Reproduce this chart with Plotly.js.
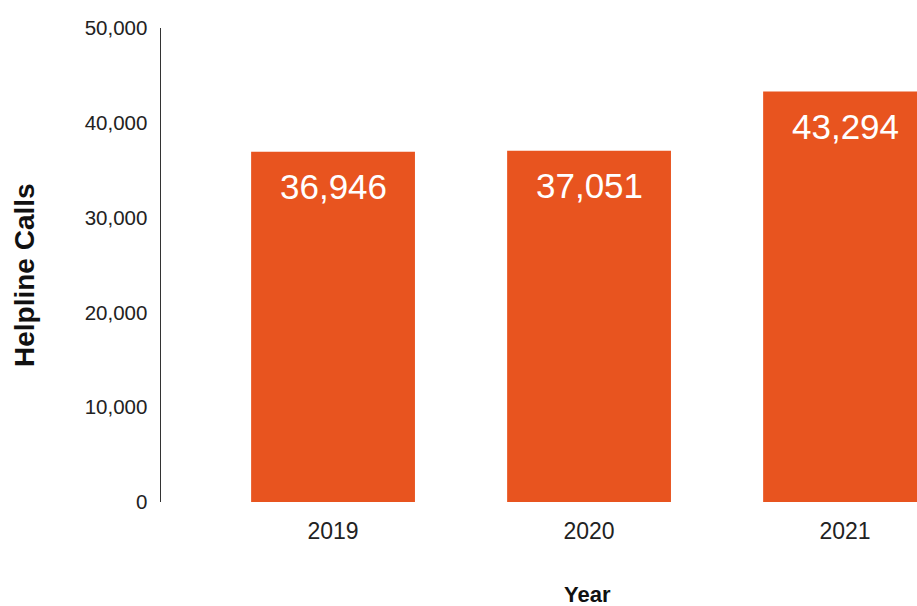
<!DOCTYPE html>
<html>
<head>
<meta charset="utf-8">
<script src="https://cdn.plot.ly/plotly-3.0.1.min.js"></script>
<style>html,body{margin:0;padding:0;background:#fff;}#chart{width:917px;height:606px;}</style>
</head>
<body>
<div id="chart"></div>
<script>
const years = ['2019', '2020', '2021'];
const calls = [36946, 37051, 43294];
const yTickVals = [0, 10000, 20000, 30000, 40000, 50000];
const yTickText = ['0', '10,000', '20,000', '30,000', '40,000', '50,000'];
const xTitle = 'Year';
const yTitle = 'Helpline Calls';

const fmt = v => v.toLocaleString('en-US');
const barColor = '#E8541F';
const font = 'Liberation Sans, Arial, Helvetica, sans-serif';

const trace = {
  type: 'bar',
  x: years,
  y: calls,
  marker: {color: barColor, line: {width: 0}},
  hoverinfo: 'x+y'
};

const annotations = years.map((yr, i) => ({
  x: i, y: calls[i], xref: 'x', yref: 'y',
  text: fmt(calls[i]),
  showarrow: false, yanchor: 'top', yshift: -13,
  font: {family: font, size: 35, color: '#ffffff'}
}));
annotations.push({
  text: '<b>' + xTitle + '</b>', xref: 'paper', yref: 'paper',
  x: (587 - 161) / 756, y: -92 / 474, xanchor: 'center', yanchor: 'middle',
  showarrow: false, font: {family: font, size: 22, color: '#111'}
});
annotations.push({
  text: '<b>' + yTitle + '</b>', xref: 'paper', yref: 'paper',
  x: (24 - 161) / 756, y: (502 - 275) / 474, xanchor: 'center', yanchor: 'middle',
  textangle: -90, showarrow: false, font: {family: font, size: 28, color: '#111'}
});

const layout = {
  width: 917, height: 606,
  margin: {l: 161, r: 0, t: 28, b: 104, pad: 0},
  paper_bgcolor: '#ffffff', plot_bgcolor: '#ffffff',
  bargap: 0.36,
  showlegend: false,
  font: {family: font, color: '#222'},
  xaxis: {
    type: 'category',
    range: [-0.672, 2.281],
    showline: false, showgrid: false, zeroline: false,
    ticks: 'outside', ticklen: 8, tickcolor: 'rgba(0,0,0,0)',
    tickfont: {family: font, size: 23, color: '#222'}
  },
  yaxis: {
    range: [0, 50000],
    tickvals: yTickVals, ticktext: yTickText,
    showline: true, linecolor: '#333', linewidth: 1.5,
    showgrid: false, zeroline: false,
    ticks: 'outside', ticklen: 8, tickcolor: 'rgba(0,0,0,0)',
    tickfont: {family: font, size: 20.5, color: '#222'}
  },
  annotations: annotations
};

Plotly.newPlot('chart', [trace], layout, {displayModeBar: false, staticPlot: true});
</script>
</body>
</html>
